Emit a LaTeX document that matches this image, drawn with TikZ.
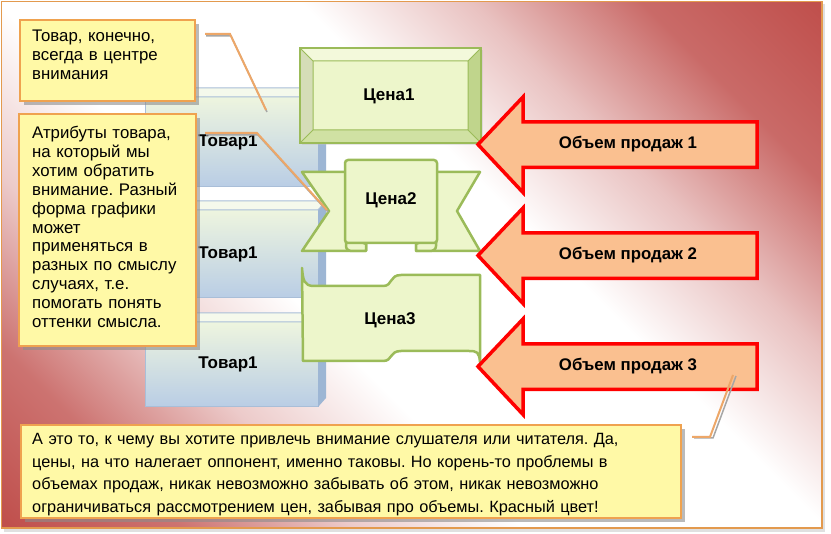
\documentclass[tikz,border=0pt]{standalone}
\usepackage{fontspec}
\setmainfont{Liberation Sans}
\usetikzlibrary{shadows,calc}
\frenchspacing
\definecolor{bgred}{HTML}{C0504D}
\definecolor{framec}{HTML}{E39A4E}
\definecolor{callfill}{HTML}{FFF9A6}
\definecolor{calldraw}{HTML}{EFA24F}
\definecolor{clinec}{HTML}{EDA768}
\definecolor{boxtop}{HTML}{EEF5DF}
\definecolor{boxbot}{HTML}{B9CDE5}
\definecolor{boxside}{HTML}{9DB6D4}
\definecolor{boxedge}{HTML}{A9BED8}
\definecolor{gfill}{HTML}{EDF6CB}
\definecolor{gdraw}{HTML}{9BBB59}
\definecolor{afill}{HTML}{FAC090}
\definecolor{adraw}{HTML}{FF0000}
\pgfdeclareverticalshading{bgshade}{100bp}{color(0bp)=(bgred); color(15bp)=(bgred); color(24bp)=(bgred!80!white); color(33bp)=(bgred!30!white); color(42bp)=(white); color(58bp)=(white); color(67bp)=(bgred!35!white); color(76bp)=(bgred!85!white); color(85bp)=(bgred); color(100bp)=(bgred)}
\begin{document}
\begin{tikzpicture}[x=1pt,y=-1pt,
  every node/.style={inner sep=0pt},
  calloutbox/.style={fill=callfill, draw=calldraw, line width=2pt, anchor=north west,
    drop shadow={shadow xshift=4pt, shadow yshift=-4pt, fill=black!45, opacity=0.6}},
  calltext/.style={anchor=north west, align=left, font=\fontsize{16.8}{18.9}\selectfont},
  cline/.style={draw=clinec, line width=2pt},
  clineshadow/.style={draw=black!35, line width=1.5pt},
  gshape/.style={fill=gfill, draw=gdraw, line width=2.5pt, line join=round},
  glabel/.style={font=\bfseries\fontsize{17}{20}\selectfont},
  tovarlabel/.style={font=\bfseries\fontsize{17}{20}\selectfont},
  arrowshape/.style={fill=afill, draw=adraw, line width=3.5pt, line join=miter},
  arrowlabel/.style={font=\bfseries\fontsize{16.8}{20}\selectfont},
]
\useasboundingbox (0,0) rectangle (831,534);
\fill[white] (0,0) rectangle (831,534);
% background frame
\fill[black!12] (4,4) rectangle (825,532);
\shade[shading=bgshade, shading angle=-45] (1.5,1.5) rectangle (822,528);
\draw[framec, line width=1.5pt] (1.5,1.5) rectangle (822,528);

% product boxes
\foreach \yt/\yb/\n in {88/187/1, 201/298/2, 313/407/3} {
  \shade[top color=boxtop, bottom color=boxbot] (145,\yt+9) rectangle (318,\yb);
  \draw[boxedge, line width=1pt] (145,\yt+9) rectangle (318,\yb);
  \fill[boxside] (318,\yt+9) -- (326,\yt) -- (326,\yb-9) -- (318,\yb) -- cycle;
  \filldraw[fill=boxtop!60!white, draw=boxedge, line width=1pt] (145,\yt+9) -- (151,\yt) -- (326,\yt) -- (318,\yt+9) -- cycle;
  \node[tovarlabel] (t\n) at (228,{(\yt+9+\yb)/2}) {Товар1};
}

% Price 1: bevel
\fill[black!25, opacity=0.4] (302,50) rectangle (483,145);
\fill[gfill!70!white] (300,48) -- (481,48) -- (468,61) -- (313,61) -- cycle;
\fill[gfill!90!black] (300,48) -- (313,61) -- (313,130) -- (300,143) -- cycle;
\fill[gdraw!55!gfill] (481,48) -- (481,143) -- (468,130) -- (468,61) -- cycle;
\fill[gdraw!35!gfill] (300,143) -- (481,143) -- (468,130) -- (313,130) -- cycle;
\fill[gfill] (313,61) rectangle (468,130);
\draw[gdraw, line width=1pt] (313,61) rectangle (468,130)
  (300,48) -- (313,61) (481,48) -- (468,61) (481,143) -- (468,130) (300,143) -- (313,130);
\draw[gdraw, line width=2.5pt] (300,48) rectangle (481,143);
\node[glabel] (p1) at (389,96) {Цена1};

% Price 2: ribbon
\path[gshape] (346,172) -- (302,172) -- (329,211) -- (302,251) -- (366,251) -- (366,242) -- (346,242) -- cycle;
\path[gshape] (436,172) -- (480,172) -- (457,211) -- (480,251) -- (416,251) -- (416,242) -- (436,242) -- cycle;
\path[gshape] (346,236) -- (346,246) .. controls (346,250) and (349,251) .. (353,251) -- (366,251) -- (366,244) -- cycle;
\path[gshape] (436,236) -- (436,246) .. controls (436,250) and (433,251) .. (429,251) -- (416,251) -- (416,244) -- cycle;
\path[gshape, rounded corners=3pt] (345,160) rectangle (437,243);
\node[glabel] (p2) at (391,200) {Цена2};

% Price 3: wave
\path[gshape] (302,268) .. controls (303,280) and (304,286) .. (314,286) -- (383,286)
  .. controls (393,286) and (389,275) .. (401,275) -- (480,275) -- (480,362)
  .. controls (479,352) and (477,351) .. (469,351) -- (401,351)
  .. controls (389,351) and (393,361) .. (383,361) -- (303,361) -- cycle;
\node[glabel] (p3) at (390,320) {Цена3};

% sales arrows
\foreach \c/\n in {144.5/1, 255.5/2, 366.5/3} {
  \path[arrowshape] (478,\c) -- (523,\c-47.5) -- (523,\c-22.5) -- (757,\c-22.5) -- (757,\c+23) -- (523,\c+23) -- (523,\c+48) -- cycle;
  \node[arrowlabel] (v\n) at (628,\c) {Объем продаж \n};
}

% callouts
\node[calloutbox, minimum width=175pt, minimum height=81pt] (c1) at (19,19) {};
\node[calltext, text width=160pt] (c1t) at (32,29.5) {Товар, конечно,\\всегда в центре\\внимания};
\node[calloutbox, minimum width=177pt, minimum height=232pt] (c2) at (18,113) {};
\node[calltext, text width=165pt] (c2t) at (32,126) {Атрибуты товара,\\на который мы\\хотим обратить\\внимание. Разный\\форма графики\\может\\применяться в\\разных по смыслу\\случаях, т.е.\\помогать понять\\оттенки смысла.};
\node[calloutbox, minimum width=660pt, minimum height=93pt] (c3) at (20,424) {};
\node[calltext, text width=645pt, font=\fontsize{16.3}{22.7}\selectfont] (c3t) at (32,433) {А это то, к чему вы хотите привлечь внимание слушателя или читателя. Да,\\цены, на что налегает оппонент, именно таковы. Но корень-то проблемы в\\объемах продаж, никак невозможно забывать об этом, никак невозможно\\ограничиваться рассмотрением цен, забывая про объемы. Красный цвет!};

% callout leader lines
\coordinate (l1a) at ($(c1.north east)+(9,15)$);
\coordinate (l1b) at (230,34);
\coordinate (l1c) at (266,110);
\draw[clineshadow] ($(l1a)+(1,2)$) -- ($(l1b)+(1,2)$) -- ($(l1c)+(1,2)$);
\draw[cline] (l1a) -- (l1b) -- (l1c);
\coordinate (l2a) at ($(c2.north east)+(8,20)$);
\coordinate (l2b) at (257,133);
\coordinate (l2c) at (327,210);
\draw[clineshadow] ($(l2a)+(1,2)$) -- ($(l2b)+(1,2)$) -- ($(l2c)+(1,2)$);
\draw[cline] (l2a) -- (l2b) -- (l2c);
\coordinate (l3a) at ($(c3.north east)+(10,13)$);
\coordinate (l3b) at (710,437);
\coordinate (l3c) at (733,375);
\draw[clineshadow] ($(l3a)+(2,1)$) -- ($(l3b)+(3,1)$) -- ($(l3c)+(3,1)$);
\draw[cline] (l3a) -- (l3b) -- (l3c);
\end{tikzpicture}
\end{document}
